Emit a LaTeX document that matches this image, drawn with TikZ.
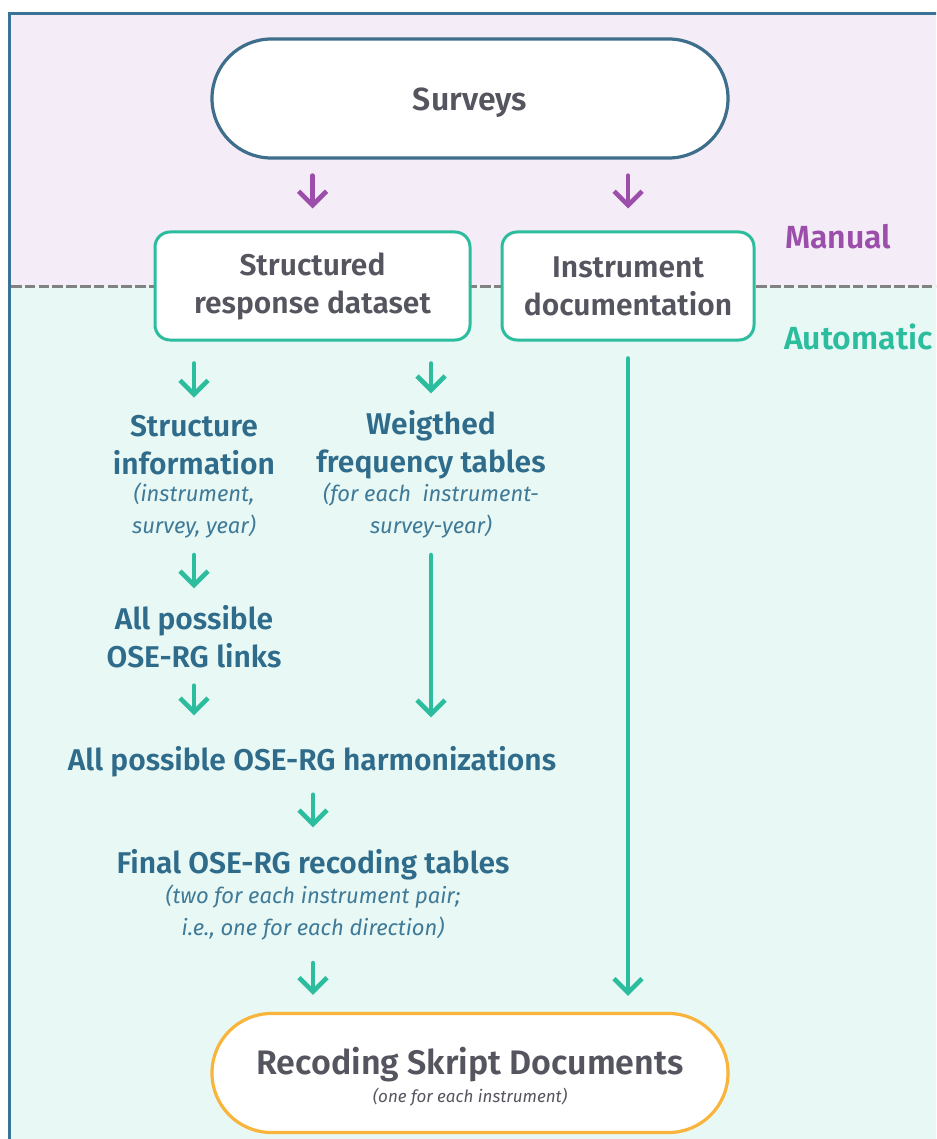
\documentclass[tikz,border=0pt]{standalone}
\usepackage{fontspec}
\setmainfont{Fira Sans}[BoldFont={* SemiBold}]
\usetikzlibrary{arrows.meta}
\definecolor{framebl}{HTML}{3B7396}
\definecolor{survbl}{HTML}{3D6E8C}
\definecolor{labelbl}{HTML}{2F6B8A}
\definecolor{notebl}{HTML}{3F7A98}
\definecolor{graytxt}{HTML}{55555F}
\definecolor{purp}{HTML}{9B4FAB}
\definecolor{tealc}{HTML}{2BBD9E}
\definecolor{manfill}{HTML}{F4ECF6}
\definecolor{autfill}{HTML}{E8F8F4}
\definecolor{dashgray}{HTML}{828282}
\definecolor{orng}{HTML}{F9B43B}

\begin{document}
\begin{tikzpicture}[x=0.5pt,y=-0.5pt,
    lbl/.style={font=\bfseries\fontsize{15}{19}\selectfont, text=labelbl, align=center, inner sep=0pt},
    note/.style={font=\itshape\fontsize{11}{16}\selectfont, text=notebl, align=center, inner sep=0pt},
    box/.style={draw=tealc, line width=1.5pt, fill=white, rounded corners=7.5pt, minimum height=54pt,
        align=center, font=\bfseries\fontsize{15}{19}\selectfont, text=graytxt},
    pill/.style={line width=1.6pt, fill=white, rounded corners=29.7pt, minimum width=258pt, minimum height=59.5pt},
    parr/.style={draw=purp, line width=2.3pt, line cap=round, -{Straight Barb[length=7pt,width=14pt]}},
    tarr/.style={draw=tealc, line width=2.3pt, line cap=round, -{Straight Barb[length=7pt,width=14pt]}}]
    \useasboundingbox (0,0) rectangle (936,1139);
    \clip (0,0) rectangle (936,1139);
    % two zones
    \fill[manfill] (9.5,13.5) rectangle (940,286);
    \fill[autfill] (9.5,286) rectangle (940,1145);
    \draw[dashgray, line width=1.5pt, dash pattern=on 5.3pt off 1.6pt] (11,286) -- (940,286);
    \draw[framebl, line width=1.7pt] (9.5,1150) -- (9.5,13.5) -- (950,13.5);
    \node[font=\bfseries\fontsize{16}{19}\selectfont, text=purp, anchor=west] (manual) at (778,237) {Manual};
    \node[font=\bfseries\fontsize{16}{19}\selectfont, text=tealc, anchor=west] (auto) at (777,337) {Automatic};

    % boxes
    \node[pill, draw=survbl, font=\bfseries\fontsize{16}{19}\selectfont, text=graytxt,
        text height=15pt, text depth=3.2pt] (surveys) at (470,98.5) {Surveys};
    \node[box, minimum width=157.5pt] (sdata) at (312.5,286) {Structured\\response dataset};
    \node[box, minimum width=126pt] (idoc) at (628,286) {Instrument\\documentation};

    % steps
    \node[lbl] (sinfo) at (194,445) {Structure\\information};
    \node[note] (sinfonote) at (194,511) {(instrument,\\survey, year)};
    \node[lbl] (wft) at (431,445) {Weigthed\\frequency tables};
    \node[note] (wftnote) at (431,511) {(for each\ \ instrument-\\survey-year)};
    \node[lbl] (links) at (194,637) {All possible\\OSE-RG links};
    \node[lbl] (harm) at (312,762) {All possible OSE-RG harmonizations};
    \node[lbl] (final) at (313,865) {Final OSE-RG recoding tables};
    \node[note] (finalnote) at (313,913) {(two for each instrument pair;\\i.e., one for each direction)};

    % result
    \node[pill, draw=orng] (rsd) at (470,1073) {};
    \node[font=\bfseries\fontsize{17}{20}\selectfont, text=graytxt] (rsdtitle) at (470,1065) {Recoding Skript Documents};
    \node[font=\itshape\fontsize{8.5}{10}\selectfont, text=graytxt] (rsdnote) at (470,1097) {(one for each instrument)};

    % arrows
    \draw[parr, shorten <=8pt, shorten >=11pt] (sdata.north |- surveys.south) -- (sdata.north);
    \draw[parr, shorten <=8pt, shorten >=11pt] (idoc.north |- surveys.south) -- (idoc.north);
    \draw[tarr, shorten <=11pt, shorten >=8.5pt] (sdata.south -| sinfo.north) -- (sinfo.north);
    \draw[tarr, shorten <=11pt, shorten >=8.5pt] (sdata.south -| wft.north) -- (wft.north);
    \draw[tarr, shorten <=8pt, shorten >=8.5pt] (sinfonote.south) -- (links.north);
    \draw[tarr, shorten <=8pt, shorten >=14.5pt] (wftnote.south) -- (wftnote.south |- harm.north);
    \draw[tarr, shorten <=8.5pt, shorten >=15.5pt] (links.south) -- (links.south |- harm.north);
    \draw[tarr, shorten <=8.5pt, shorten >=11pt] (harm.south -| final.north) -- (final.north);
    \draw[tarr, shorten <=11pt, shorten >=8.5pt] (finalnote.south) -- (finalnote.south |- rsd.north);
    \draw[tarr, shorten <=8.5pt, shorten >=8pt] (idoc.south) -- (idoc.south |- rsd.north);
\end{tikzpicture}
\end{document}
